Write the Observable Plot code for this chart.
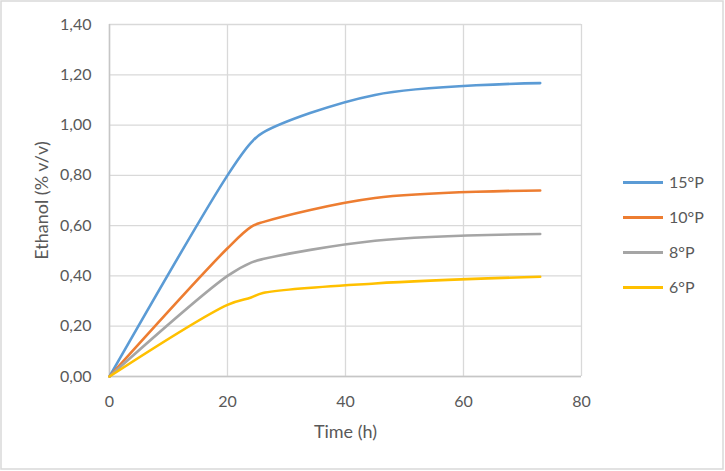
<!DOCTYPE html>
<html>
<head>
<meta charset="utf-8">
<script src="https://cdn.jsdelivr.net/npm/d3@7"></script>
<script src="https://cdn.jsdelivr.net/npm/@observablehq/plot@0.6"></script>
<style>
  html, body { margin: 0; padding: 0; background: #fff; }
  #chart { position: relative; width: 725px; height: 471px; }
  svg { font-family: Lato, "Open Sans", sans-serif; }
</style>
</head>
<body>
<div id="chart"></div>
<script>
// Data
const times = [0, 20, 24, 26, 45, 73];
const series = ["15°P", "10°P", "8°P", "6°P"];
const p15 = [0, 0.80, 0.93, 0.97, 1.12, 1.167];
const p10 = [0, 0.51, 0.595, 0.614, 0.71, 0.74];
const p8  = [0, 0.40, 0.453, 0.467, 0.54, 0.567];
const p6  = [0, 0.285, 0.314, 0.332, 0.37, 0.397];
const colors = ["#5b9bd5", "#ed7d31", "#a5a5a5", "#ffc000"];
const xTicks = [0, 20, 40, 60, 80];
const yTicks = [0, 0.2, 0.4, 0.6, 0.8, 1.0, 1.2, 1.4];

const values = [p15, p10, p8, p6];
const data = [];
series.forEach((s, i) => times.forEach((t, j) => data.push({series: s, time: t, value: values[i][j]})));

const textColor = "#595959";
const fmt = d => d.toFixed(2).replace(".", ",");

const plot = Plot.plot({
  width: 725,
  height: 471,
  marginLeft: 109,
  marginRight: 144,
  marginTop: 24,
  marginBottom: 95,
  style: {fontFamily: "Lato, 'Open Sans', sans-serif", color: textColor, background: "#fff"},
  x: {domain: [0, 80], ticks: xTicks},
  y: {domain: [0, 1.4], ticks: yTicks},
  color: {domain: series, range: colors},
  marks: [
    Plot.gridX(xTicks, {stroke: "#d9d9d9", strokeOpacity: 1, strokeWidth: 1.3}),
    Plot.gridY(yTicks, {stroke: "#d9d9d9", strokeOpacity: 1, strokeWidth: 1.3}),
    Plot.ruleX([0], {stroke: "#c6c6c6", strokeWidth: 1.5}),
    Plot.ruleY([0], {stroke: "#c6c6c6", strokeWidth: 1.5}),
    Plot.axisX({ticks: xTicks, tickSize: 0, tickPadding: 19, fontSize: 16, label: null, fill: textColor}),
    Plot.axisY({ticks: yTicks, tickSize: 0, tickPadding: 18, fontSize: 16, label: null, tickFormat: fmt, fill: textColor}),
    Plot.line(data, {x: "time", y: "value", z: "series", stroke: "series", strokeWidth: 2.6, curve: "catmull-rom"}),
    Plot.text(["Time (h)"], {frameAnchor: "bottom", dy: 56, fontSize: 18, fill: textColor, lineAnchor: "middle"}),
    Plot.text(["Ethanol (% v/v)"], {frameAnchor: "left", dx: -67, rotate: -90, fontSize: 18, fill: textColor, lineAnchor: "middle", textAnchor: "middle"})
  ]
});

document.getElementById("chart").appendChild(plot);

// Outer chart border and legend (layout elements)
const svg = d3.select(plot);
svg.append("rect")
  .attr("x", 1).attr("y", 1).attr("width", 722).attr("height", 468)
  .attr("fill", "none").attr("stroke", "#d9d9d9").attr("stroke-width", 1.5);

const legend = svg.append("g").attr("text-anchor", "start");
series.forEach((s, i) => {
  const y = 182.5 + i * 35;
  legend.append("line")
    .attr("x1", 623).attr("x2", 663).attr("y1", y).attr("y2", y)
    .attr("stroke", colors[i]).attr("stroke-width", 3);
  legend.append("text")
    .attr("x", 669).attr("y", y).attr("dy", "0.36em")
    .attr("text-anchor", "start")
    .attr("fill", textColor).attr("font-size", 16)
    .text(s);
});
</script>
</body>
</html>
